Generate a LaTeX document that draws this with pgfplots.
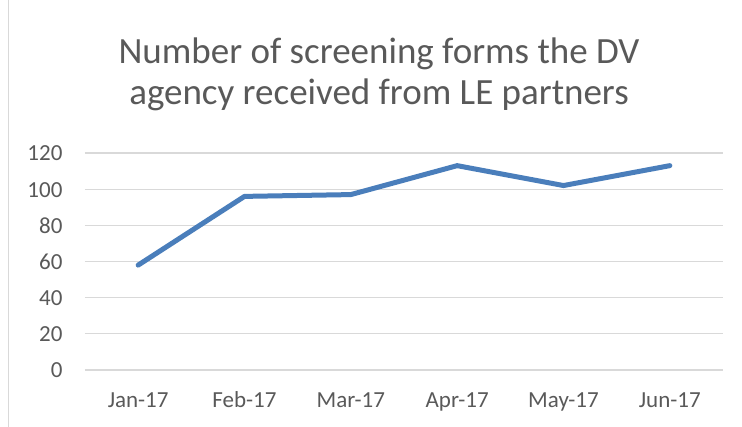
\documentclass[border=0pt]{standalone}
\usepackage{fontspec}
\setmainfont{Carlito}
\usepackage{pgfplots}
\pgfplotsset{compat=1.18}
\definecolor{xlblue}{RGB}{74,126,187}
\definecolor{xlgrid}{RGB}{217,217,217}
\definecolor{xltext}{RGB}{89,89,89}

\begin{document}
\begin{tikzpicture}
  \path[use as bounding box] (-85pt,-57pt) rectangle (657pt,370pt);
  \draw[xlgrid, line width=1pt] (-76pt,-57pt) -- (-76pt,370pt);
  \begin{axis}[
      at={(0pt,0pt)}, anchor=south west,
      scale only axis,
      width=638pt, height=217pt,
      xmin=0, xmax=6,
      ymin=0, ymax=120,
      ytick={0,20,...,120},
      xtick={0.5,1.5,...,5.5},
      xticklabels={Jan-17,Feb-17,Mar-17,Apr-17,May-17,Jun-17},
      extra x ticks={0,1,...,6},
      extra x tick labels={},
      extra x tick style={
        major tick length=7pt,
        tick style={xlgrid, line width=1.2pt},
        tick pos=bottom, tick align=outside},
      x tick style={draw=none},
      y tick style={draw=none},
      ymajorgrids, grid style={xlgrid, line width=1.2pt},
      axis x line*=bottom, axis y line*=left,
      x axis line style={xlgrid, line width=1.2pt, -},
      y axis line style={draw=none},
      tick label style={font=\fontsize{23}{26}\selectfont, text=xltext},
      xticklabel style={anchor=base, yshift=-38pt},
      yticklabel style={anchor=base east, xshift=-19pt, yshift=-8pt},
      /pgf/number format/assume math mode=true,
      clip=false,
    ]
    \addplot[color=xlblue, line width=5pt, line join=round, line cap=round]
      coordinates {(0.5,58)(1.5,96)(2.5,97)(3.5,113)(4.5,102)(5.5,113)};
  \end{axis}
  \node[anchor=base, text=xltext, font=\fontsize{37}{40}\selectfont] at (294pt,306pt) {Number of screening forms the DV};
  \node[anchor=base, text=xltext, font=\fontsize{37}{40}\selectfont] at (294pt,265pt) {agency received from LE partners};
\end{tikzpicture}
\end{document}
